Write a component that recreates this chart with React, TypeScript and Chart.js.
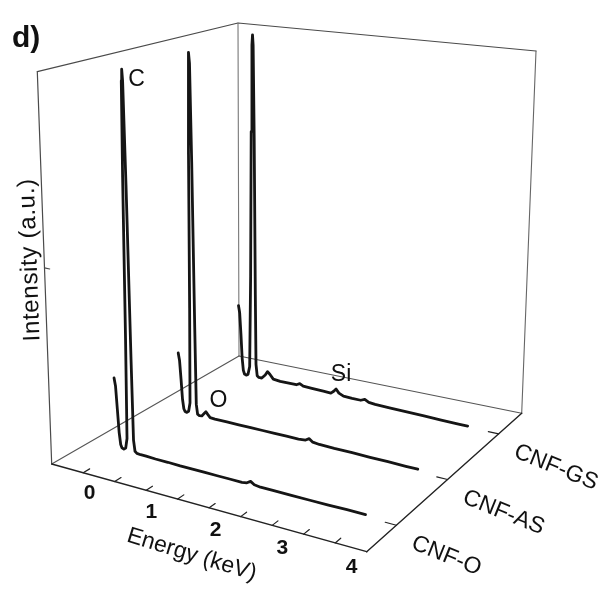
import React, { useEffect, useRef } from "react";
import { Chart, registerables } from "chart.js";

Chart.register(...registerables);

// ---------------- data ----------------
const E_MIN = -0.5;
const E_MAX = 4.5;
const I_MAX = 1;
const DEPTH_MIN = -0.58;
const DEPTH_MAX = 2.45;

const energyTicks = [0, 0.5, 1, 1.5, 2, 2.5, 3, 3.5, 4];
const energyTickLabels = [0, 1, 2, 3, 4];
const intensityTicks = [0.5];
const seriesNames = ["CNF-O", "CNF-AS", "CNF-GS"];

const energyO = [-0.04, -0.02, 0.0, 0.02, 0.04, 0.06, 0.09, 0.12, 0.145, 0.16, 0.175, 0.19, 0.2, 0.21, 0.225, 0.24, 0.25, 0.27, 0.3, 0.36, 0.45, 0.6, 0.8, 1.0, 1.2, 1.4, 1.6, 1.8, 2.0, 2.08, 2.14, 2.2, 2.3, 2.5, 2.8, 3.1, 3.4, 3.7, 4.0];
const intensityO = [0.19, 0.17, 0.11, 0.05, 0.02, 0.012, 0.01, 0.014, 0.04, 0.3, 0.72, 0.97, 1.0, 0.97, 0.7, 0.25, 0.04, 0.012, 0.008, 0.007, 0.007, 0.006, 0.006, 0.005, 0.005, 0.005, 0.005, 0.005, 0.005, 0.007, 0.013, 0.007, 0.005, 0.005, 0.005, 0.005, 0.005, 0.006, 0.006];

const energyAS = [0.0, 0.02, 0.04, 0.06, 0.08, 0.1, 0.13, 0.16, 0.185, 0.2, 0.215, 0.23, 0.24, 0.25, 0.265, 0.28, 0.29, 0.31, 0.34, 0.38, 0.42, 0.45, 0.48, 0.52, 0.6, 0.8, 1.0, 1.2, 1.4, 1.6, 1.8, 2.0, 2.12, 2.18, 2.24, 2.35, 2.6, 2.9, 3.2, 3.5, 3.8, 4.0];
const intensityAS = [0.17, 0.15, 0.1, 0.045, 0.02, 0.013, 0.012, 0.016, 0.04, 0.3, 0.72, 0.97, 1.0, 0.97, 0.7, 0.25, 0.04, 0.014, 0.011, 0.012, 0.02, 0.026, 0.02, 0.013, 0.012, 0.012, 0.012, 0.012, 0.012, 0.012, 0.012, 0.012, 0.014, 0.02, 0.013, 0.011, 0.01, 0.01, 0.009, 0.009, 0.008, 0.008];

const energyGS = [-0.02, 0.0, 0.02, 0.04, 0.06, 0.08, 0.11, 0.14, 0.17, 0.19, 0.205, 0.22, 0.23, 0.24, 0.255, 0.27, 0.28, 0.3, 0.33, 0.38, 0.44, 0.48, 0.52, 0.58, 0.7, 0.85, 0.98, 1.04, 1.1, 1.25, 1.45, 1.58, 1.63, 1.67, 1.72, 1.8, 1.95, 2.1, 2.17, 2.24, 2.35, 2.6, 2.9, 3.2, 3.5, 3.8, 3.96];
const intensityGS = [0.21, 0.19, 0.13, 0.06, 0.025, 0.015, 0.013, 0.016, 0.04, 0.3, 0.72, 0.97, 1.0, 0.97, 0.7, 0.25, 0.05, 0.018, 0.014, 0.014, 0.025, 0.036, 0.03, 0.018, 0.016, 0.016, 0.016, 0.021, 0.016, 0.015, 0.014, 0.013, 0.02, 0.028, 0.018, 0.012, 0.011, 0.011, 0.016, 0.01, 0.008, 0.007, 0.006, 0.005, 0.004, 0.003, 0.003];

const seriesEnergy = [energyO, energyAS, energyGS];
const seriesIntensity = [intensityO, intensityAS, intensityGS];

const peakLabels = ["C", "O", "Si"];
const peakEnergy = [0.2, 0.46, 1.66];
const peakIntensity = [1.0, 0.026, 0.028];
const peakSeries = [0, 1, 2];

// ---------------- projection (layout geometry) ----------------
const W = 598;
const H = 589;
// floor corners: [energy-lo/hi][front/back]
const B00 = [51.7, 464];
const B10 = [366.7, 551.7];
const B01 = [239, 356];
const B11 = [521.7, 413.3];
// full-height vectors at those corners
const H00 = [-14.4, -392.3];
const H10 = [6, -426];
const H01 = [-1, -333];
const H11 = [14.3, -362.3];

function depthOf(i: number) {
  return (i - DEPTH_MIN) / (DEPTH_MAX - DEPTH_MIN);
}

function project(e: number, intensity: number, d: number) {
  const u = (e - E_MIN) / (E_MAX - E_MIN);
  const h = intensity / I_MAX;
  const w00 = (1 - u) * (1 - d);
  const w10 = u * (1 - d);
  const w01 = (1 - u) * d;
  const w11 = u * d;
  const bx = w00 * B00[0] + w10 * B10[0] + w01 * B01[0] + w11 * B11[0];
  const by = w00 * B00[1] + w10 * B10[1] + w01 * B01[1] + w11 * B11[1];
  const hx = w00 * H00[0] + w10 * H10[0] + w01 * H01[0] + w11 * H11[0];
  const hy = w00 * H00[1] + w10 * H10[1] + w01 * H01[1] + w11 * H11[1];
  return { x: bx + h * hx, y: by + h * hy };
}

const FONT = '"Liberation Sans", Arial, Helvetica, sans-serif';

function lineDs(points: { x: number; y: number }[], color: string, width: number, order: number) {
  return {
    data: points,
    showLine: true,
    borderColor: color,
    borderWidth: width,
    pointRadius: 0,
    pointHoverRadius: 0,
    fill: false,
    tension: 0,
    clip: false as any,
    borderJoinStyle: "round" as const,
    borderCapStyle: "round" as const,
    order,
  };
}

function buildDatasets() {
  const ds: any[] = [];
  // spectra (on top)
  seriesEnergy.forEach((en, i) => {
    const d = depthOf(i);
    const pts = en.map((e, k) => project(e, seriesIntensity[i][k], d));
    ds.push(lineDs(pts, "#151515", 2.8, 0));
  });
  const boxC = "#4a4a4a";
  const axC = "#222";
  // box edges
  ds.push(lineDs([project(E_MIN, 0, 0), project(E_MAX, 0, 0)], axC, 1.4, 2));
  ds.push(lineDs([project(E_MAX, 0, 0), project(E_MAX, 0, 1)], axC, 1.4, 2));
  ds.push(lineDs([project(E_MIN, 0, 0), project(E_MIN, 0, 1)], "#555", 1.1, 2));
  ds.push(lineDs([project(E_MIN, 0, 1), project(E_MAX, 0, 1)], "#555", 1.1, 2));
  ds.push(lineDs([project(E_MIN, 0, 0), project(E_MIN, I_MAX, 0)], boxC, 1.2, 2));
  ds.push(lineDs([project(E_MIN, 0, 1), project(E_MIN, I_MAX, 1)], "#777", 1.1, 2));
  ds.push(lineDs([project(E_MAX, 0, 1), project(E_MAX, I_MAX, 1)], "#666", 1.1, 2));
  ds.push(lineDs([project(E_MIN, I_MAX, 0), project(E_MIN, I_MAX, 1), project(E_MAX, I_MAX, 1)], boxC, 1.2, 2));
  // energy ticks
  energyTicks.forEach((e) => {
    ds.push(lineDs([project(e, 0, 0), project(e, 0, 0.035)], axC, 1.2, 2));
  });
  // intensity ticks
  intensityTicks.forEach((v) => {
    ds.push(lineDs([project(E_MIN, v, 0), project(E_MIN + 0.08, v, 0)], boxC, 1.2, 2));
  });
  // series ticks
  seriesNames.forEach((_, i) => {
    const d = depthOf(i);
    ds.push(lineDs([project(E_MAX, 0, d), project(E_MAX - 0.18, 0, d)], axC, 1.2, 2));
  });
  return ds;
}

const textPlugin = {
  id: "edsTexts",
  afterDatasetsDraw(chart: any) {
    const ctx = chart.ctx as CanvasRenderingContext2D;
    const xs = chart.scales.x;
    const ys = chart.scales.y;
    const pix = (p: { x: number; y: number }) => [xs.getPixelForValue(p.x), ys.getPixelForValue(p.y)];
    ctx.save();
    ctx.fillStyle = "#111";
    ctx.textBaseline = "alphabetic";

    // panel letter
    ctx.font = `bold 30px ${FONT}`;
    ctx.textAlign = "left";
    ctx.fillText("d)", 12, 46.5);

    // energy tick labels
    ctx.font = `bold 21px ${FONT}`;
    ctx.textAlign = "center";
    energyTickLabels.forEach((e) => {
      const [x, y] = pix(project(e, 0, 0));
      ctx.fillText(String(e), x + 6.5 - 2.5 * e + 1.25 * e * e, y + 26.5 + 0.8 * e);
    });

    // peak labels
    ctx.font = `23px ${FONT}`;
    const peakOff = [
      [14.8, 17.2],
      [12, -4.5],
      [5.6, -7.4],
    ];
    peakLabels.forEach((t, i) => {
      const [x, y] = pix(project(peakEnergy[i], peakIntensity[i], depthOf(peakSeries[i])));
      ctx.fillText(t, x + peakOff[i][0], y + peakOff[i][1]);
    });

    // energy axis title
    {
      const [x, y] = pix(project(2, 0, 0));
      ctx.save();
      ctx.translate(x - 17.5, y + 47);
      ctx.rotate((17 * Math.PI) / 180);
      ctx.font = `23px ${FONT}`;
      ctx.textAlign = "center";
      ctx.textBaseline = "middle";
      ctx.fillText("Energy (keV)", 0, 0);
      ctx.restore();
    }

    // intensity axis title
    {
      const [x, y] = pix(project(E_MIN, 0.5, 0));
      ctx.save();
      ctx.translate(x - 14.5, y - 8);
      ctx.rotate((-92 * Math.PI) / 180);
      ctx.font = `24px ${FONT}`;
      (ctx as any).letterSpacing = "0.7px";
      ctx.textAlign = "center";
      ctx.textBaseline = "middle";
      ctx.fillText("Intensity (a.u.)", 0, 0);
      ctx.restore();
    }

    // series labels
    seriesNames.forEach((name, i) => {
      const [x, y] = pix(project(E_MAX, 0, depthOf(i)));
      ctx.save();
      ctx.translate(x + 14, y + 23);
      ctx.rotate((22 * Math.PI) / 180);
      ctx.font = `23px ${FONT}`;
      ctx.textAlign = "left";
      ctx.textBaseline = "alphabetic";
      ctx.fillText(name, 0, 0);
      ctx.restore();
    });

    ctx.restore();
  },
};

export default function App() {
  const ref = useRef<HTMLCanvasElement | null>(null);
  useEffect(() => {
    if (!ref.current) return;
    const chart = new Chart(ref.current, {
      type: "scatter",
      data: { datasets: buildDatasets() },
      options: {
        animation: false,
        responsive: false,
        devicePixelRatio: 1,
        events: [],
        layout: { padding: 0 },
        scales: {
          x: { type: "linear", min: 0, max: W, display: false },
          y: { type: "linear", min: 0, max: H, reverse: true, display: false },
        },
        plugins: { legend: { display: false }, tooltip: { enabled: false } },
      },
      plugins: [textPlugin],
    });
    return () => chart.destroy();
  }, []);
  return (
    <div style={{ position: "fixed", left: 0, top: 0, width: W, height: H, background: "#fff" }}>
      <canvas ref={ref} width={W} height={H} style={{ display: "block" }} />
    </div>
  );
}
